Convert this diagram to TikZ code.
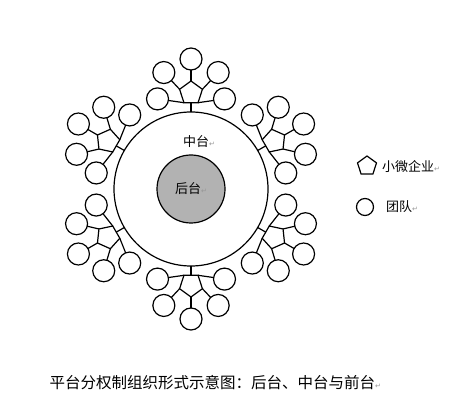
\documentclass[tikz,border=0pt]{standalone}
\usepackage{fontspec}
\setmainfont{Noto Sans CJK SC}
\newfontfamily\markfont{DejaVu Sans}
\usetikzlibrary{calc}
\usetikzlibrary{shapes.geometric}

\definecolor{coregray}{RGB}{178,178,178}
\definecolor{markgray}{RGB}{150,150,150}
\newcommand\retmark{{\markfont\fontsize{7}{7}\selectfont\color{markgray}↵}}

\tikzset{
  ring/.style={circle,draw,line width=1.2pt,inner sep=0pt,outer sep=0pt},
  team/.style={ring,minimum size=22pt},
  firm/.style={regular polygon,regular polygon sides=5,draw,line width=1.2pt,
    minimum size=24pt,inner sep=0pt,outer sep=0pt},
  link/.style={line width=1.2pt},
  label/.style={font=\fontsize{13}{13}\selectfont,inner sep=1pt}
}

\begin{document}
\begin{tikzpicture}[x=1pt,y=1pt]
  % Constants
  \pgfmathsetmacro\D{96}
  \pgfmathsetmacro\L{34}
  % Boundary
  \path[use as bounding box] (0,0) rectangle (463,418);
  % Platform
  \begin{scope}[shift={(191,229)}]
    \node[ring,minimum size=154pt] (mid) at (0,0) {};
    \node[ring,fill=coregray,minimum size=68pt,label] (core) at (0,0) {后台\retmark};
    \node[label] (midtext) at (8,47) {中台\retmark};
    % Firms and teams
    \foreach \a [count=\k] in {90,30,330,270,210,150}{
      \pgfmathsetmacro\rot{\a-90}
      \node[firm,shape border rotate=\rot] (p\k) at (\a:\D) {};
      \draw[link] (mid.\a) -- (p\k.side 3);
      \foreach \o/\c [count=\j] in {0/1,53/2,-53/5,100/3,-100/4}{
        \node[team] (t\k-\j) at ($(p\k)+(\a+\o:\L)$) {};
        \draw[link] (p\k.corner \c) -- (t\k-\j);
      }
    }
  \end{scope}
  % Legend
  \node[firm,minimum size=20pt] (legfirm) at (367,252) {};
  \node[label,anchor=west] (legfirmtext) at (381,251) {小微企业\retmark};
  \node[ring,minimum size=17pt] (legteam) at (365,211) {};
  \node[label,anchor=west] (legteamtext) at (385,211) {团队\retmark};
  % Caption
  \node[anchor=west,font=\fontsize{15.5}{16}\selectfont] (caption) at (46,35)
    {平台分权制组织形式示意图：后台、中台与前台\retmark};
\end{tikzpicture}
\end{document}
